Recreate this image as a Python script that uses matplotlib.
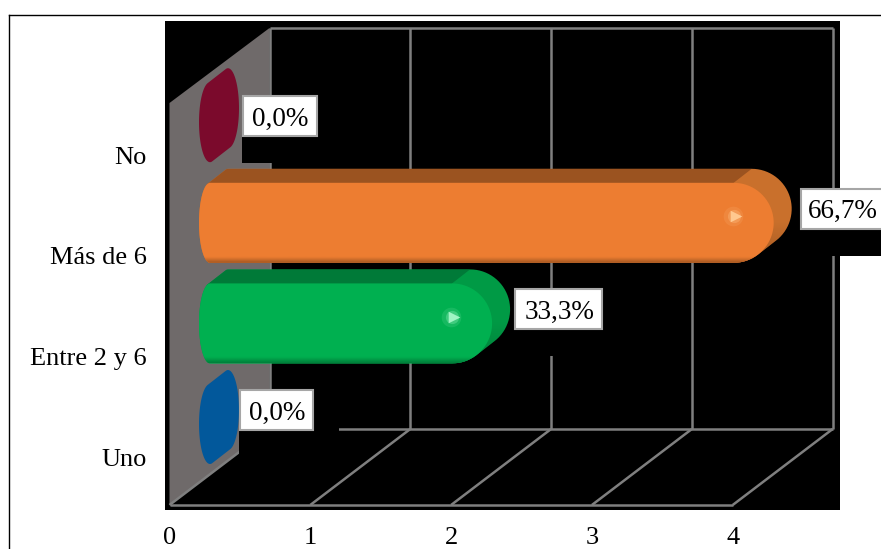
import numpy as np
import matplotlib
matplotlib.use("Agg")
import matplotlib.pyplot as plt
from matplotlib.colors import to_rgb
from matplotlib.lines import Line2D
from matplotlib.patches import Polygon, Rectangle

# Chart data, listed from the bottom row up
categories = ["Uno", "Entre 2 y 6", "Más de 6", "No"]
counts = [0, 2, 4, 0]
percent_labels = ["0,0%", "33,3%", "66,7%", "0,0%"]
x_ticks = [0, 1, 2, 3, 4]

# Bar colours: front face, top band, rounded side
front_colors = ["#02589b", "#00b050", "#ed7d31", "#7b0a2c"]
top_colors = ["#02589b", "#007a38", "#9b5320", "#7b0a2c"]
side_colors = ["#02589b", "#009a45", "#c9702c", "#7b0a2c"]
glow_colors = ["#ffffff", "#9ff5c4", "#ffc88f", "#ffffff"]

# Canvas and plot geometry, in pixels
W, H = 881, 549
BOX_L, BOX_R, BOX_T, BOX_B = 165, 840, 21, 510
X0, PX_PER_X = 169.5, 140.8
Y0, PX_PER_ROW = 457.0, 100.6
FLOOR_FRONT, FLOOR_BACK, WALL_TOP = 505, 429, 28
WALL_FRONT_TOP = 103
DEPTH_X = 100

# Cylinder geometry, in pixels
BAR_R = 40
ELLIPSE_RX = 11
BAR_DX, BAR_DY = 18, 14
BAR_LIFT = 33
BAR_START = 29.5
BAR_TIP = 41

# Value label placement: gap after the bar tip, rise above the bar centre, box size
label_gaps = [1, 5, 9, 4]
label_rises = [14, 14, 14, 6]
label_widths = [73, 87, 90, 74]
label_text_insets = [37, 44, 42, 37]
LABEL_H = 40
MASK_W, MASK_H = 100, 67

GRID = "#7f7f7f"
WALL = "#6f6a6a"

plt.rcParams["font.family"] = ["Liberation Serif", "DejaVu Serif"]

fig = plt.figure(figsize=(W / 100, H / 100), dpi=100, facecolor="white")
ax = fig.add_axes([BOX_L / W, 1 - BOX_B / H, (BOX_R - BOX_L) / W, (BOX_B - BOX_T) / H])
ax.set_facecolor("black")


def px_x(px):
    return (px - X0) / PX_PER_X


def px_y(py):
    return (Y0 - py) / PX_PER_ROW


xlim = (px_x(BOX_L), px_x(BOX_R))
ylim = (px_y(BOX_B), px_y(BOX_T))
ax.set_xlim(xlim)
ax.set_ylim(ylim)


def pts_to_data(points):
    points = np.asarray(points, dtype=float)
    return np.column_stack([px_x(points[:, 0]), px_y(points[:, 1])])


def convex_hull(points):
    pts = sorted(set(map(tuple, np.round(points, 3))))

    def half(seq):
        out = []
        for p in seq:
            while len(out) > 1:
                a, b = out[-2], out[-1]
                if (b[0] - a[0]) * (p[1] - a[1]) - (b[1] - a[1]) * (p[0] - a[0]) <= 0:
                    out.pop()
                else:
                    break
            out.append(p)
        return out[:-1]

    return np.array(half(pts) + half(pts[::-1]))


def front_outline(value, row):
    """Outline of a cylinder's front face, in pixel coordinates."""
    cy = Y0 - PX_PER_ROW * row - BAR_LIFT
    left = X0 + BAR_START + ELLIPSE_RX
    t = np.linspace(np.pi / 2, 3 * np.pi / 2, 40)
    lx = left + ELLIPSE_RX * np.cos(t)
    ly = cy - BAR_R * np.sin(t)
    t2 = np.linspace(-np.pi / 2, np.pi / 2, 40)
    if value > 0:
        cx = X0 + value * PX_PER_X + BAR_TIP - BAR_R
        rx = cx + BAR_R * np.cos(t2)
    else:
        rx = left + ELLIPSE_RX * np.cos(t2)
    ry = cy - BAR_R * np.sin(t2)
    return np.column_stack([np.r_[lx, rx], np.r_[ly, ry]]), cy


def gradient_fill(patch, stops, extent, z=4):
    """Paint a vertical colour ramp clipped to a patch; extent is in pixels."""
    pos = np.linspace(0, 1, 64)
    keys = [s[0] for s in stops]
    rgba = np.array([to_rgb(s[1]) + (s[2],) for s in stops])
    ramp = np.column_stack([np.interp(pos, keys, rgba[:, i]) for i in range(4)])
    l, r, t, b = extent
    im = ax.imshow(ramp[:, None, :], extent=(px_x(l), px_x(r), px_y(b), px_y(t)), origin="upper",
                   aspect="auto", zorder=z, interpolation="bilinear")
    im.set_clip_path(patch)


# Side wall
ax.add_patch(Polygon(pts_to_data([(X0, WALL_FRONT_TOP), (X0 + DEPTH_X, WALL_TOP),
                                  (X0 + DEPTH_X, FLOOR_BACK), (X0, FLOOR_FRONT)]),
                     closed=True, fc=WALL, ec="none", zorder=1))

# Back wall frame, gridlines and floor lines, one set per x tick
line_kw = dict(color=GRID, lw=1.8, solid_capstyle="butt", zorder=2)
y_front, y_back, y_top = px_y(FLOOR_FRONT), px_y(FLOOR_BACK), px_y(WALL_TOP)
depth = DEPTH_X / PX_PER_X
for v in x_ticks:
    ax.plot([v + depth, v + depth], [y_back, y_top], **line_kw)
    ax.plot([v, v + depth], [y_front, y_back], **line_kw)
ax.plot([x_ticks[0] + depth, x_ticks[-1] + depth], [y_top, y_top], **line_kw)
ax.plot([x_ticks[0] + depth, x_ticks[-1] + depth], [y_back, y_back], **line_kw)
ax.plot([x_ticks[0], x_ticks[-1]], [y_front, y_front], **line_kw)

# Cylinders and their value labels
for row, value in enumerate(counts):
    front, cy = front_outline(value, row)
    tip = front[:, 0].max()
    back = front + np.array([BAR_DX, -BAR_DY])
    hull = convex_hull(np.vstack([front, back]))

    # Black panel behind each value label
    box_l = tip + BAR_DX + label_gaps[row]
    box_t = cy - label_rises[row] - LABEL_H / 2
    ax.add_patch(Rectangle((px_x(box_l - 1), px_y(box_t + MASK_H)),
                           MASK_W / PX_PER_X, MASK_H / PX_PER_ROW,
                           fc="black", ec="none", zorder=3, clip_on=False))

    silhouette = Polygon(pts_to_data(hull), closed=True, fc=side_colors[row], ec="none", zorder=4)
    ax.add_patch(silhouette)

    if value > 0:
        shade = to_rgb(top_colors[row])
        gradient_fill(silhouette,
                      [(0, shade, 0), (0.55, shade, 0), (1, shade, 0.75)],
                      (tip - BAR_R, tip + BAR_DX, cy - BAR_R - BAR_DY, cy + BAR_R), z=4.1)

        # Dark top band, running round the left end of the cylinder
        end_x = tip - BAR_R
        band = [(X0, cy - BAR_R + 2), (X0, cy - BAR_R - BAR_DY),
                (end_x + BAR_DX, cy - BAR_R - BAR_DY), (end_x, cy - BAR_R), (end_x, cy - BAR_R + 2)]
        band_patch = Polygon(pts_to_data(band), closed=True, fc=top_colors[row], ec="none", zorder=4.2)
        ax.add_patch(band_patch)
        band_patch.set_clip_path(silhouette)

        face = Polygon(pts_to_data(front), closed=True, fc=front_colors[row], ec="none", zorder=4.3)
        ax.add_patch(face)
        edge = to_rgb(top_colors[row])
        gradient_fill(face,
                      [(0, edge, 0), (0.93, edge, 0), (1, edge, 0.85)],
                      (X0, tip + 2, cy - BAR_R, cy + BAR_R), z=4.4)

        # Small specular spot near the rounded end
        gx, gy = px_x(tip - 40), px_y(cy - 6.5)
        ax.scatter([gx - 1 / PX_PER_X], [gy], s=200, color=glow_colors[row], alpha=0.14, lw=0, zorder=4.5)
        ax.scatter([gx], [gy], s=90, color=glow_colors[row], alpha=0.30, lw=0, zorder=4.5)
        ax.scatter([gx + 2 / PX_PER_X], [gy], s=70, marker=">", color=glow_colors[row],
                   lw=0, zorder=4.6)

    ax.add_patch(Rectangle((px_x(box_l), px_y(box_t + LABEL_H)),
                           label_widths[row] / PX_PER_X, LABEL_H / PX_PER_ROW,
                           fc="white", ec="#a6a6a6", lw=1.5, zorder=5, clip_on=False))
    ax.text(px_x(box_l + label_text_insets[row]), px_y(box_t + LABEL_H / 2), percent_labels[row],
            fontsize=19.5, ha="center", va="center_baseline", color="black", zorder=6, clip_on=False)

# Axis tick labels
ax.set_xticks(x_ticks)
ax.set_xticklabels([str(v) for v in x_ticks])
ax.set_yticks(range(len(categories)))
ax.set_yticklabels(categories)
ax.tick_params(axis="x", length=0, pad=12.3, labelsize=19)
ax.tick_params(axis="y", length=0, pad=13, labelsize=19)
for spine in ax.spines.values():
    spine.set_visible(False)

ax.set_xlim(xlim)
ax.set_ylim(ylim)

# Outer frame along the top and left edges
frame = dict(color="black", lw=1.0, transform=fig.transFigure)
fig.add_artist(Line2D([8.5 / W, 8.5 / W], [0, 1 - 15 / H], **frame))
fig.add_artist(Line2D([8.5 / W, 1], [1 - 15 / H, 1 - 15 / H], **frame))

fig.savefig("out.png", dpi=100)
